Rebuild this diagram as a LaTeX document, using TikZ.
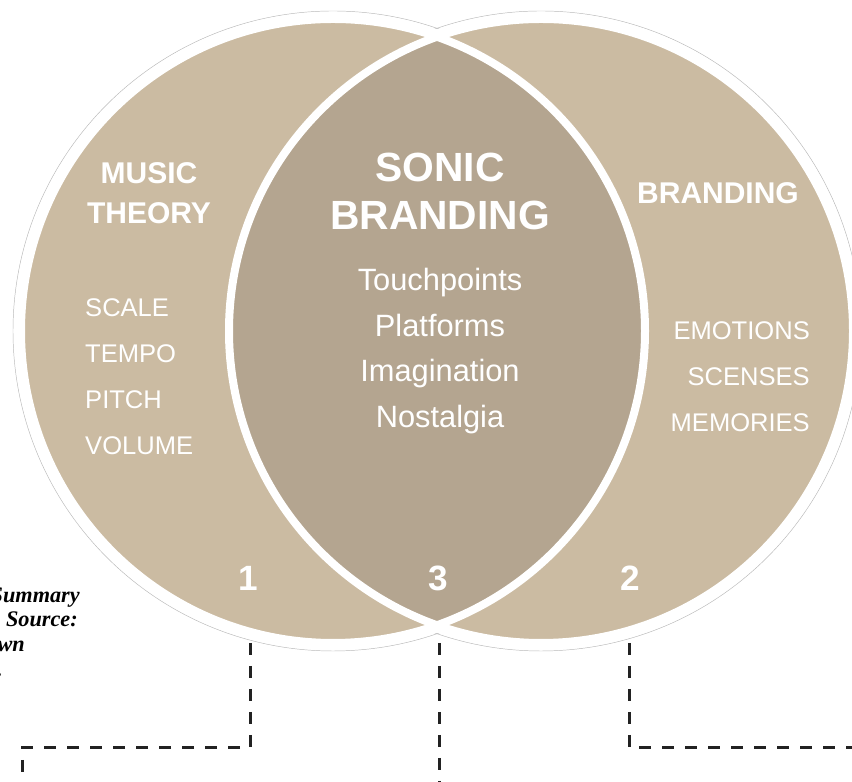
\documentclass[tikz,border=0pt]{standalone}
\usepackage{fontspec}
\setmainfont{Liberation Sans}
\newfontfamily\serifa{Liberation Serif}
\usepackage{xcolor}
\usetikzlibrary{positioning}

\definecolor{arena}{RGB}{203,187,162}
\definecolor{arenaosc}{RGB}{180,165,144}
\definecolor{tinta}{RGB}{34,34,34}

\begin{document}
\begin{tikzpicture}[
  x=0.3mm, y=0.3mm,
  borde/.style={draw=black!28, line width=0.4pt},
  aro/.style={draw=white, line width=2.4mm},
  titulo/.style={text=white, align=center, inner sep=0pt,
                 font=\bfseries\fontsize{25.6}{34}\selectfont},
  lista/.style={text=white, inner sep=0pt, font=\fontsize{21.8}{39.3}\selectfont},
  numero/.style={text=white, inner sep=0pt, font=\bfseries\fontsize{30}{30}\selectfont},
  nota/.style={anchor=base east, inner sep=0pt,
               font=\serifa\bfseries\itshape\fontsize{19}{21}\selectfont},
  guia/.style={draw=tinta, line width=0.9mm, dash pattern=on 3.6mm off 3.3mm}
]
\useasboundingbox (0,0) rectangle (852,782);
\coordinate (izq) at (333,451);
\coordinate (der) at (541,451);

\draw[borde] (izq) circle (320) (der) circle (320);
\fill[white] (izq) circle (319) (der) circle (319);
\fill[arena] (izq) circle (312) (der) circle (312);
\begin{scope}
  \clip (izq) circle (312);
  \fill[arenaosc] (der) circle (312);
\end{scope}
\draw[aro] (izq) circle (312) (der) circle (312);

\node[titulo] (teoria) at (149,589) {MUSIC\\THEORY};
\node[titulo, font=\bfseries\fontsize{34.8}{41}\selectfont] (sonico) at (440,591) {SONIC\\BRANDING};
\node[titulo] (marca) at (718,589) {BRANDING};

\node[lista, align=left, anchor=west] (elementos) at (85,405) {SCALE\\TEMPO\\PITCH\\VOLUME};
\node[lista, align=center, font=\fontsize{26.3}{39}\selectfont] (puntos) at (440,431)
  {Touchpoints\\Platforms\\Imagination\\Nostalgia};
\node[lista, align=right, anchor=east] (sentidos) at (810,405) {EMOTIONS\\SCENSES\\MEMORIES};

\node[numero] (n1) at (248,204) {1};
\node[numero] (n3) at (438,204) {3};
\node[numero] (n2) at (630,204) {2};

\node[nota] (linea1) at (80,179) {Summary};
\node[nota] (linea2) at (78,155) {Source:};
\node[nota] (linea3) at (25,130) {wn};
\node[nota] (linea4) at (3,105) {.};

\coordinate (p1) at (250,139);
\coordinate (p3) at (439,139);
\coordinate (p2) at (629,139);
\coordinate (c1) at (22,34);
\coordinate (f1) at (22,0);
\coordinate (f3) at (439,0);
\coordinate (f2) at (852,34);
\draw[guia] (p1) |- (c1) -- (f1);
\draw[guia] (p3) -- (f3);
\draw[guia] (p2) |- (f2);
\end{tikzpicture}
\end{document}
